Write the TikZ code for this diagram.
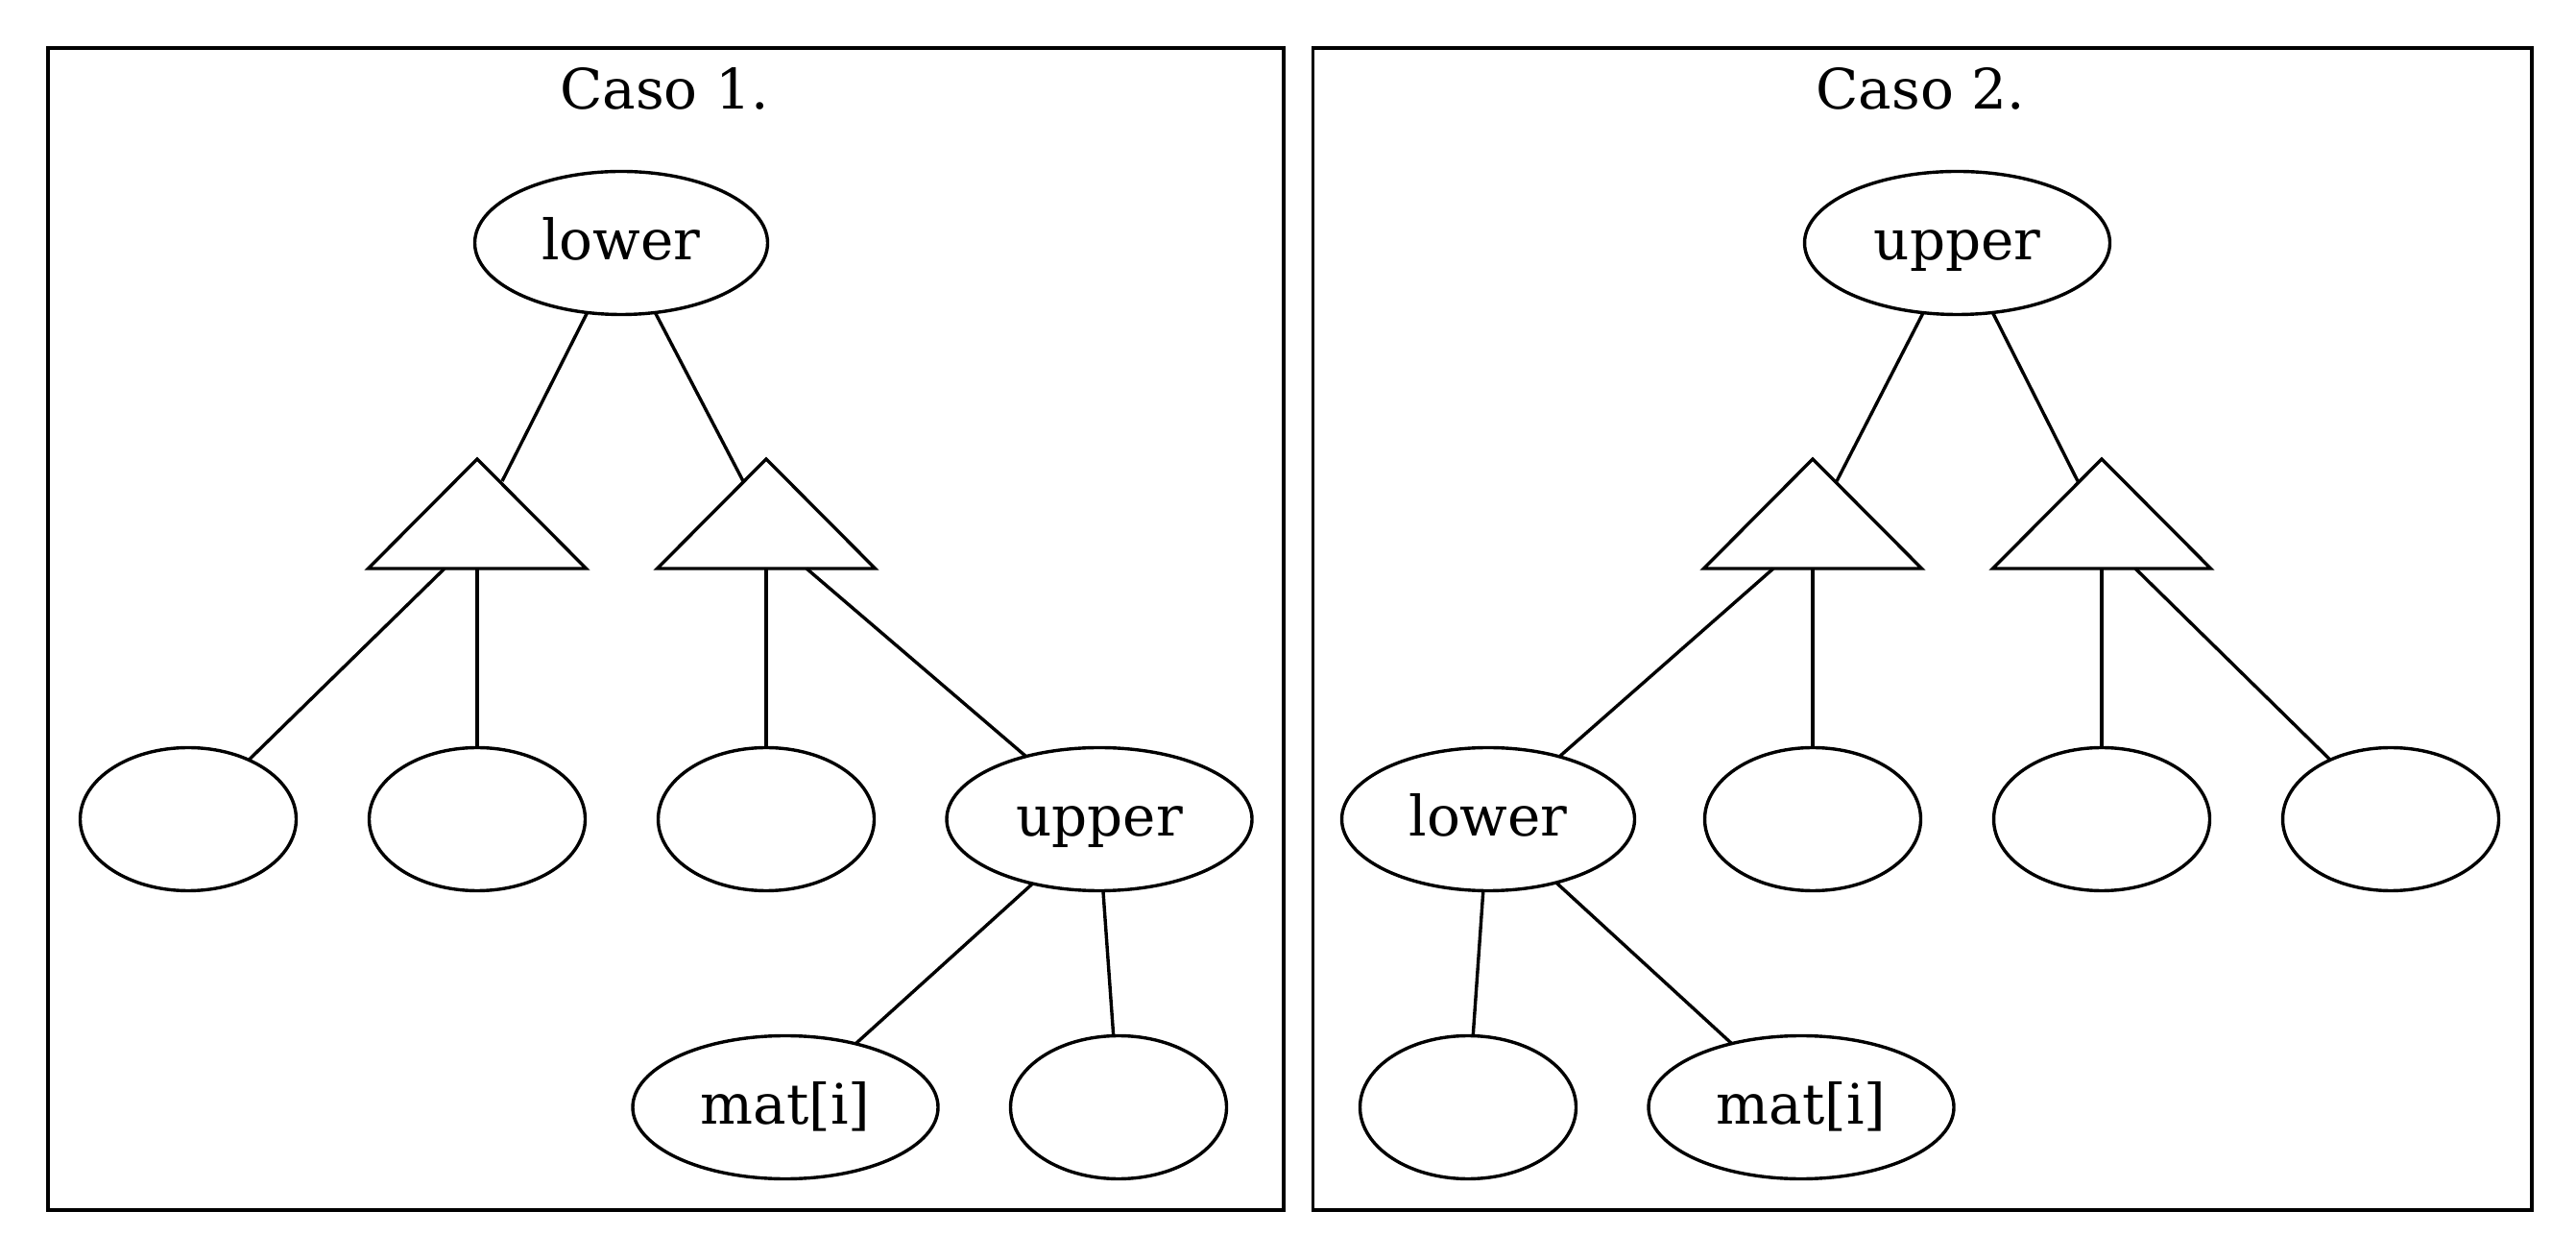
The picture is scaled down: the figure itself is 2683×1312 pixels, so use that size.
\documentclass[tikz,border=0pt]{standalone}
\usepackage{fontspec}
\setmainfont{DejaVu Serif}
\usetikzlibrary{shapes.geometric,calc}
\begin{document}
\begin{tikzpicture}[x=0.25pt,y=-0.25pt,
  every node/.style={font=\fontsize{14.5}{17}\selectfont},
  lw/.style={line width=0.85pt},
  ell/.style={draw,ellipse,lw,inner sep=0pt,outer sep=0pt,minimum height=37.25pt,text height=10.75pt,text depth=2pt},
  leaf/.style={ell,minimum width=56.25pt},
  lowbox/.style={ell,minimum width=76.25pt},
  wide/.style={ell,minimum width=79.5pt},
  tri/.style={draw,lw,isosceles triangle,isosceles triangle stretches,shape border rotate=90,minimum width=56.75pt,minimum height=28.5pt,inner sep=0pt,outer sep=0pt,anchor=apex},
  link/.style={lw},
  cluster/.style={draw,lw},
  title/.style={anchor=base}
]
\useasboundingbox (0,0) rectangle (2683,1312);

% ---------- Caso 1 ----------
\draw[cluster] (50,50) rectangle (1337,1260);
\node[title] (c1) at (692,114) {Caso 1.};
\node[lowbox] (L1) at (647,253) {lower};
\node[tri] (T1a) at (497,478) {};
\node[tri] (T1b) at (798,478) {};
\node[leaf] (e11) at (196,853) {};
\node[leaf] (e12) at (497,853) {};
\node[leaf] (e13) at (798,853) {};
\node[wide] (U1) at (1145,853) {upper};
\node[wide] (M1) at (818,1153) {mat[i]};
\node[leaf] (e14) at (1165,1153) {};

\draw[link] (L1.-116) -- ($(T1a.apex)+(26,23)$);
\draw[link] (L1.-64) -- ($(T1b.apex)+(-24,23)$);
\draw[link] ($(T1a.apex)+(-34,114)$) -- (e11);
\draw[link] ($(T1a.apex)+(0,114)$) -- (e12);
\draw[link] ($(T1b.apex)+(0,114)$) -- (e13);
\draw[link] ($(T1b.apex)+(42,114)$) -- (U1);
\draw[link] (U1.-136.6) -- (M1);
\draw[link] (U1.-87) -- (e14);

% ---------- Caso 2 ----------
\draw[cluster] (1367.5,50) rectangle (2637,1260);
\node[title] (c2) at (2000,114) {Caso 2.};
\node[wide] (U2) at (2038.5,253) {upper};
\node[tri] (T2a) at (1888,478) {};
\node[tri] (T2b) at (2189,478) {};
\node[lowbox] (L2) at (1550,853) {lower};
\node[leaf] (e21) at (1888,853) {};
\node[leaf] (e22) at (2189,853) {};
\node[leaf] (e23) at (2490,853) {};
\node[leaf] (e24) at (1529,1153) {};
\node[wide] (M2) at (1876,1153) {mat[i]};

\draw[link] (U2.-116) -- ($(T2a.apex)+(25,23)$);
\draw[link] (U2.-63.4) -- ($(T2b.apex)+(-25,23)$);
\draw[link] ($(T2a.apex)+(-41,114)$) -- (L2);
\draw[link] ($(T2a.apex)+(0,114)$) -- (e21);
\draw[link] ($(T2b.apex)+(0,114)$) -- (e22);
\draw[link] ($(T2b.apex)+(35,114)$) -- (e23);
\draw[link] (L2.-94) -- (e24);
\draw[link] (L2.-43.8) -- (M2);
\end{tikzpicture}
\end{document}
